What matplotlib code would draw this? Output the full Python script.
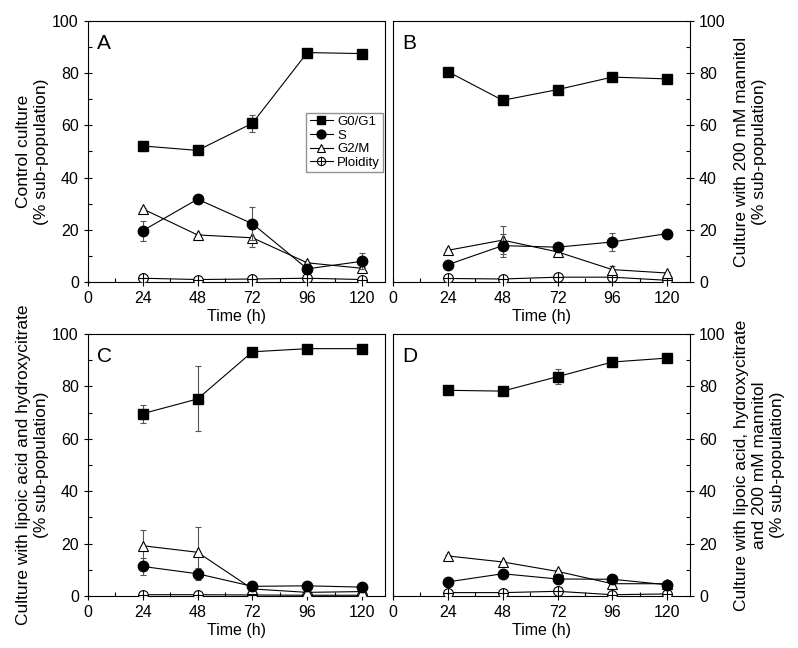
import matplotlib
matplotlib.use('Agg')
import matplotlib.pyplot as plt
from matplotlib.ticker import MultipleLocator
from matplotlib.path import Path

plt.rcParams['font.family'] = ['Liberation Sans', 'DejaVu Sans']

# data
time = [24, 48, 72, 96, 120]

# A - control
a_g0g1 = [52.1, 50.4, 60.8, 87.9, 87.5]
a_g0g1_err = [2.0, 0.5, 3.3, 0.5, 0.5]
a_s = [19.6, 31.7, 22.3, 5.0, 7.9]
a_s_err = [3.8, 0.5, 6.4, 0.5, 3.0]
a_g2m = [28.0, 18.0, 16.9, 7.3, 5.2]
a_g2m_err = [0.5, 0.5, 3.5, 0.5, 0.5]
a_ploidy = [1.4, 0.9, 1.1, 1.4, 0.9]

# B - 200 mM mannitol
b_g0g1 = [80.6, 69.6, 73.7, 78.5, 77.8]
b_g0g1_err = [0.5, 0.5, 0.5, 1.5, 0.5]
b_s = [6.6, 13.9, 13.3, 15.3, 18.5]
b_s_err = [0.5, 4.5, 0.5, 3.6, 1.5]
b_g2m = [12.1, 16.0, 11.5, 4.7, 3.4]
b_g2m_err = [0.5, 5.5, 1.5, 1.5, 0.5]
b_ploidy = [1.3, 1.1, 1.8, 1.8, 0.6]

# C - lipoic acid + hydroxycitrate
c_g0g1 = [69.6, 75.2, 93.2, 94.4, 94.4]
c_g0g1_err = [3.4, 12.4, 0.5, 0.5, 0.5]
c_s = [11.3, 8.5, 3.7, 3.9, 3.4]
c_s_err = [3.4, 2.3, 0.5, 0.5, 0.5]
c_g2m = [19.2, 16.7, 2.7, 1.4, 1.7]
c_g2m_err = [6.1, 9.8, 0.5, 0.5, 0.5]
c_ploidy = [0.5, 0.5, 0.4, 0.3, 0.3]

# D - lipoic acid + hydroxycitrate + mannitol
d_g0g1 = [78.5, 78.2, 83.7, 89.3, 90.8]
d_g0g1_err = [0.5, 0.5, 2.8, 0.5, 0.5]
d_s = [5.4, 8.5, 6.5, 6.4, 4.3]
d_s_err = [0.5, 0.5, 0.5, 0.5, 0.5]
d_g2m = [15.3, 13.0, 9.4, 4.7, 4.7]
d_g2m_err = [0.5, 0.5, 0.5, 0.5, 0.5]
d_ploidy = [1.3, 1.3, 1.8, 0.5, 0.8]

panels = [
    ('A', a_g0g1, a_g0g1_err, a_s, a_s_err, a_g2m, a_g2m_err, a_ploidy,
     'Control culture\n(% sub-population)', 'left'),
    ('B', b_g0g1, b_g0g1_err, b_s, b_s_err, b_g2m, b_g2m_err, b_ploidy,
     'Culture with 200 mM mannitol\n(% sub-population)', 'right'),
    ('C', c_g0g1, c_g0g1_err, c_s, c_s_err, c_g2m, c_g2m_err, c_ploidy,
     'Culture with lipoic acid and hydroxycitrate\n(% sub-population)', 'left'),
    ('D', d_g0g1, d_g0g1_err, d_s, d_s_err, d_g2m, d_g2m_err, d_ploidy,
     'Culture with lipoic acid, hydroxycitrate\nand 200 mM mannitol\n(% sub-population)', 'right'),
]

# circle with a cross inside (ploidity marker)
circ = Path.unit_circle()
cross = Path([(-1, 0), (1, 0), (0, -1), (0, 1)],
             [Path.MOVETO, Path.LINETO, Path.MOVETO, Path.LINETO])
oplus = Path.make_compound_path(circ, cross)

fig = plt.figure(figsize=(7.98, 6.48), dpi=100)
rects = [
    [0.110, 0.565, 0.3725, 0.4026],
    [0.4925, 0.565, 0.3722, 0.4026],
    [0.110, 0.0802, 0.3725, 0.4044],
    [0.4925, 0.0802, 0.3722, 0.4044],
]

ebkw = dict(ecolor='#555555', elinewidth=0.8, capsize=2.5, capthick=0.8)
lnkw = dict(color='black', linewidth=0.8, markersize=7.5)

for rect, p in zip(rects, panels):
    letter, g0, g0e, s, se, g2, g2e, pl, ylab, side = p
    ax = fig.add_axes(rect)
    h1 = ax.errorbar(time, g0, yerr=g0e, marker='s', mfc='black', mec='black',
                     label='G0/G1', zorder=4, **lnkw, **ebkw)
    h2 = ax.errorbar(time, s, yerr=se, marker='o', mfc='black', mec='black',
                     label='S', zorder=4, **lnkw, **ebkw)
    h3 = ax.errorbar(time, g2, yerr=g2e, marker='^', mfc='white', mec='black',
                     mew=0.8, label='G2/M', zorder=3, **lnkw, **ebkw)
    h4, = ax.plot(time, pl, marker=oplus, color='black', mfc='white',
                  mec='black', mew=0.8, linewidth=0.8, markersize=7,
                  label='Ploidity', zorder=3)

    ax.set_xlim(0, 130)
    ax.set_ylim(0, 100)
    ax.xaxis.set_major_locator(MultipleLocator(24))
    ax.xaxis.set_minor_locator(MultipleLocator(12))
    ax.yaxis.set_major_locator(MultipleLocator(20))
    ax.yaxis.set_minor_locator(MultipleLocator(10))
    ax.tick_params(which='major', direction='inout', length=6, width=0.8,
                   labelsize=11.5)
    ax.tick_params(which='minor', direction='in', length=3, width=0.8)
    for sp in ax.spines.values():
        sp.set_linewidth(0.8)
    if side == 'right':
        ax.yaxis.tick_right()
        ax.yaxis.set_label_position('right')
        ax.set_ylabel(ylab, fontsize=12.5, rotation=90, labelpad=6,
                      linespacing=1.25)
    else:
        ax.set_ylabel(ylab, fontsize=12.5, labelpad=2, linespacing=1.25)
    ax.set_xlabel('Time (h)', fontsize=11.5, labelpad=2)
    ax.text(0.03, 0.95, letter, transform=ax.transAxes, fontsize=15,
            va='top', ha='left')

    if letter == 'A':
        ax.legend([h1.lines[0], h2.lines[0], h3.lines[0], h4],
                  ['G0/G1', 'S', 'G2/M', 'Ploidity'],
                  loc='center left', bbox_to_anchor=(0.735, 0.535), fontsize=9.5,
                  frameon=True, fancybox=False, edgecolor='#777777',
                  handlelength=1.8, handletextpad=0.3, borderpad=0.25,
                  labelspacing=0.1, borderaxespad=0, markerscale=0.85)

fig.savefig('out.png', dpi=100)
